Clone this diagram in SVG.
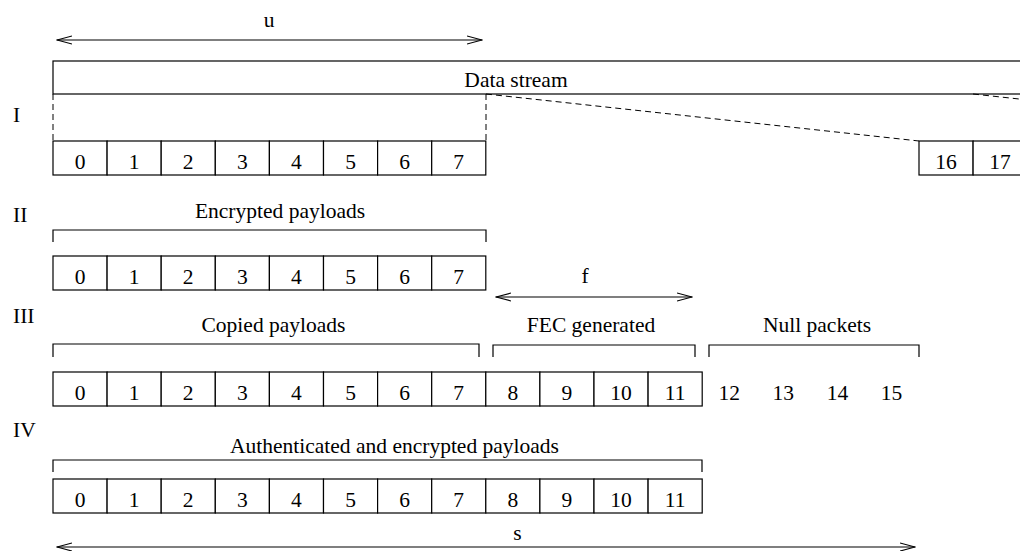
<svg xmlns="http://www.w3.org/2000/svg" width="1020" height="551" viewBox="0 0 1020 551">
  <style>
    text { font-family: "Liberation Serif", "Times New Roman", serif; font-size: 21.5px; fill: #000; }
    .c { text-anchor: middle; }
    .cell { fill: #fff; stroke: #000; stroke-width: 1.2; }
    .ln { fill: none; stroke: #000; stroke-width: 1.2; }
    .dash { fill: none; stroke: #000; stroke-width: 1; stroke-dasharray: 6 4; }
    .dim { fill: none; stroke: #000; stroke-width: 1.2; marker-start: url(#open); marker-end: url(#open); }
  </style>
  <defs>
    <marker id="open" viewBox="0 0 16 10" refX="15" refY="5" markerWidth="16" markerHeight="10" markerUnits="userSpaceOnUse" orient="auto-start-reverse">
      <path d="M0,1 L15,5 L0,9" fill="none" stroke="#000" stroke-width="1.2"/>
    </marker>
  </defs>

  <!-- stage labels -->
  <g id="stage-labels">
    <text x="13" y="122">I</text>
    <text x="13" y="222">II</text>
    <text x="13" y="323">III</text>
    <text x="13" y="437">IV</text>
  </g>

  <!-- continuous data stream -->
  <g id="data-stream">
    <rect class="ln" x="53" y="61" width="990" height="33"/>
    <text class="c" x="516" y="87">Data stream</text>
  </g>

  <!-- stage I: packets cut from the stream -->
  <g id="row-1">
    <rect class="cell" x="53" y="141" width="54.1" height="34"/>
    <rect class="cell" x="107.1" y="141" width="54.1" height="34"/>
    <rect class="cell" x="161.2" y="141" width="54.1" height="34"/>
    <rect class="cell" x="215.3" y="141" width="54.1" height="34"/>
    <rect class="cell" x="269.4" y="141" width="54.1" height="34"/>
    <rect class="cell" x="323.5" y="141" width="54.1" height="34"/>
    <rect class="cell" x="377.6" y="141" width="54.1" height="34"/>
    <rect class="cell" x="431.7" y="141" width="54.1" height="34"/>
    <text class="c" x="80" y="169">0</text>
    <text class="c" x="134.1" y="169">1</text>
    <text class="c" x="188.2" y="169">2</text>
    <text class="c" x="242.3" y="169">3</text>
    <text class="c" x="296.4" y="169">4</text>
    <text class="c" x="350.5" y="169">5</text>
    <text class="c" x="404.6" y="169">6</text>
    <text class="c" x="458.7" y="169">7</text>
  </g>
  <g id="row-1-next">
    <rect class="cell" x="919" y="141" width="54.1" height="34"/>
    <rect class="cell" x="973.1" y="141" width="54.1" height="34"/>
    <text class="c" x="946" y="169">16</text>
    <text class="c" x="1000.1" y="169">17</text>
  </g>

  <!-- stage II: encrypted payloads -->
  <g id="row-2">
    <path class="ln" d="M53,242 V230 H486 V242"/>
    <text class="c" x="280" y="218">Encrypted payloads</text>
    <rect class="cell" x="53" y="256" width="54.1" height="34"/>
    <rect class="cell" x="107.1" y="256" width="54.1" height="34"/>
    <rect class="cell" x="161.2" y="256" width="54.1" height="34"/>
    <rect class="cell" x="215.3" y="256" width="54.1" height="34"/>
    <rect class="cell" x="269.4" y="256" width="54.1" height="34"/>
    <rect class="cell" x="323.5" y="256" width="54.1" height="34"/>
    <rect class="cell" x="377.6" y="256" width="54.1" height="34"/>
    <rect class="cell" x="431.7" y="256" width="54.1" height="34"/>
    <text class="c" x="80" y="284">0</text>
    <text class="c" x="134.1" y="284">1</text>
    <text class="c" x="188.2" y="284">2</text>
    <text class="c" x="242.3" y="284">3</text>
    <text class="c" x="296.4" y="284">4</text>
    <text class="c" x="350.5" y="284">5</text>
    <text class="c" x="404.6" y="284">6</text>
    <text class="c" x="458.7" y="284">7</text>
  </g>

  <!-- stage III: copied, FEC and null packets -->
  <g id="row-3">
    <path class="ln" d="M53,357 V344 H479 V357"/>
    <text class="c" x="273.5" y="332">Copied payloads</text>
    <path class="ln" d="M493,357 V345 H695 V357"/>
    <text class="c" x="591" y="332">FEC generated</text>
    <path class="ln" d="M709,357 V345 H919 V357"/>
    <text class="c" x="817" y="332">Null packets</text>
    <rect class="cell" x="53" y="372" width="54.1" height="34"/>
    <rect class="cell" x="107.1" y="372" width="54.1" height="34"/>
    <rect class="cell" x="161.2" y="372" width="54.1" height="34"/>
    <rect class="cell" x="215.3" y="372" width="54.1" height="34"/>
    <rect class="cell" x="269.4" y="372" width="54.1" height="34"/>
    <rect class="cell" x="323.5" y="372" width="54.1" height="34"/>
    <rect class="cell" x="377.6" y="372" width="54.1" height="34"/>
    <rect class="cell" x="431.7" y="372" width="54.1" height="34"/>
    <rect class="cell" x="485.8" y="372" width="54.1" height="34"/>
    <rect class="cell" x="539.9" y="372" width="54.1" height="34"/>
    <rect class="cell" x="594" y="372" width="54.1" height="34"/>
    <rect class="cell" x="648.1" y="372" width="54.1" height="34"/>
    <text class="c" x="80" y="400">0</text>
    <text class="c" x="134.1" y="400">1</text>
    <text class="c" x="188.2" y="400">2</text>
    <text class="c" x="242.3" y="400">3</text>
    <text class="c" x="296.4" y="400">4</text>
    <text class="c" x="350.5" y="400">5</text>
    <text class="c" x="404.6" y="400">6</text>
    <text class="c" x="458.7" y="400">7</text>
    <text class="c" x="512.8" y="400">8</text>
    <text class="c" x="566.9" y="400">9</text>
    <text class="c" x="621" y="400">10</text>
    <text class="c" x="675.1" y="400">11</text>
    <text class="c" x="729.2" y="400">12</text>
    <text class="c" x="783.3" y="400">13</text>
    <text class="c" x="837.4" y="400">14</text>
    <text class="c" x="891.5" y="400">15</text>
  </g>

  <!-- stage IV: authenticated and encrypted payloads -->
  <g id="row-4">
    <path class="ln" d="M53,472 V460 H702 V472"/>
    <text class="c" x="394.5" y="453">Authenticated and encrypted payloads</text>
    <rect class="cell" x="53" y="479" width="54.1" height="34"/>
    <rect class="cell" x="107.1" y="479" width="54.1" height="34"/>
    <rect class="cell" x="161.2" y="479" width="54.1" height="34"/>
    <rect class="cell" x="215.3" y="479" width="54.1" height="34"/>
    <rect class="cell" x="269.4" y="479" width="54.1" height="34"/>
    <rect class="cell" x="323.5" y="479" width="54.1" height="34"/>
    <rect class="cell" x="377.6" y="479" width="54.1" height="34"/>
    <rect class="cell" x="431.7" y="479" width="54.1" height="34"/>
    <rect class="cell" x="485.8" y="479" width="54.1" height="34"/>
    <rect class="cell" x="539.9" y="479" width="54.1" height="34"/>
    <rect class="cell" x="594" y="479" width="54.1" height="34"/>
    <rect class="cell" x="648.1" y="479" width="54.1" height="34"/>
    <text class="c" x="80" y="507">0</text>
    <text class="c" x="134.1" y="507">1</text>
    <text class="c" x="188.2" y="507">2</text>
    <text class="c" x="242.3" y="507">3</text>
    <text class="c" x="296.4" y="507">4</text>
    <text class="c" x="350.5" y="507">5</text>
    <text class="c" x="404.6" y="507">6</text>
    <text class="c" x="458.7" y="507">7</text>
    <text class="c" x="512.8" y="507">8</text>
    <text class="c" x="566.9" y="507">9</text>
    <text class="c" x="621" y="507">10</text>
    <text class="c" x="675.1" y="507">11</text>
  </g>

  <!-- connectors: projection lines and dimension arrows -->
  <g id="connectors">
    <line class="dash" x1="53" y1="94" x2="53" y2="141"/>
    <line class="dash" x1="486" y1="94" x2="486" y2="141"/>
    <line class="dash" x1="486" y1="94" x2="919" y2="141"/>
    <line class="dash" x1="973" y1="94" x2="1406" y2="141"/>
    <line class="dim" x1="57" y1="40" x2="482" y2="40"/>
    <text class="c" x="269" y="27">u</text>
    <line class="dim" x1="496" y1="297" x2="692" y2="297"/>
    <text class="c" x="585" y="283">f</text>
    <line class="dim" x1="57" y1="547" x2="915" y2="547"/>
    <text class="c" x="517.5" y="540">s</text>
  </g>
</svg>
